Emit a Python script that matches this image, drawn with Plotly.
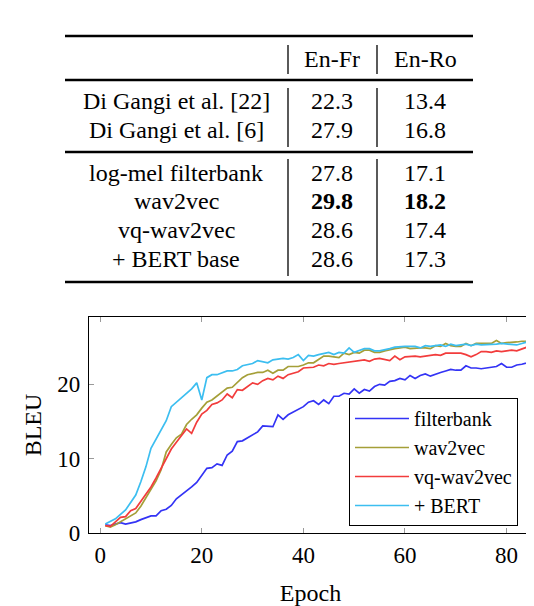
import plotly.graph_objects as go

# --- table data ---
table_header = ["En-Fr", "En-Ro"]
rows_prior = ["Di Gangi et al. [22]", "Di Gangi et al. [6]"]
en_fr_prior = ["22.3", "27.9"]
en_ro_prior = ["13.4", "16.8"]
rows_ours = ["log-mel filterbank", "wav2vec", "vq-wav2vec", "+ BERT base"]
en_fr_ours = ["27.8", "29.8", "28.6", "28.6"]
en_ro_ours = ["17.1", "18.2", "17.4", "17.3"]
best_row = "wav2vec"

# --- BLEU curves ---
epochs = list(range(1, 86))
filterbank = [
    1.1, 1.0, 1.2, 1.4, 1.2, 1.3, 1.5, 1.8, 2.1, 2.3,
    2.3, 3.0, 3.2, 3.7, 4.6, 5.1, 5.6, 6.2, 6.8, 7.8,
    8.7, 8.8, 9.3, 9.1, 10.5, 11.0, 12.3, 12.4, 12.8, 13.1,
    13.6, 14.4, 14.4, 14.3, 15.9, 15.3, 15.9, 16.3, 16.6, 17.0,
    17.6, 17.8, 17.3, 17.9, 17.4, 18.4, 18.4, 18.8, 18.7, 19.4,
    18.8, 19.3, 19.1, 19.7, 20.0, 19.9, 20.4, 20.5, 20.8, 20.6,
    21.2, 20.8, 21.2, 21.4, 21.1, 21.4, 21.6, 21.8, 22.0, 21.9,
    21.9, 22.5, 22.2, 22.2, 22.1, 22.2, 22.3, 22.4, 22.8, 22.3,
    22.3, 22.6, 22.7, 22.9, 23.1,
]
wav2vec = [
    1.0, 0.8, 1.1, 1.5, 1.8, 2.2, 2.7, 3.6, 4.8, 5.8,
    7.0, 8.5, 10.9, 11.9, 12.8, 13.3, 14.6, 15.3, 15.9, 16.8,
    17.6, 17.9, 18.4, 18.9, 19.5, 19.6, 20.3, 20.9, 21.3, 21.5,
    21.6, 21.6, 21.9, 21.5, 21.9, 21.9, 22.4, 22.4, 22.4, 22.6,
    22.9, 22.9, 23.4, 23.8, 23.8, 23.7, 23.6, 24.2, 24.0, 24.3,
    24.2, 24.6, 24.6, 24.3, 24.3, 24.5, 24.7, 24.8, 24.9, 25.0,
    24.8, 24.9, 24.9, 24.9, 24.8, 25.2, 25.1, 25.5, 25.2, 25.1,
    25.1, 25.5, 25.2, 25.5, 25.5, 25.5, 25.5, 25.9, 25.5, 25.6,
    25.6, 25.7, 25.8, 25.8, 25.5,
]
vq_wav2vec = [
    1.0, 0.9, 1.5, 2.1, 2.2, 3.0, 3.3, 4.3, 5.3, 6.2,
    7.4, 8.7, 10.0, 11.3, 12.2, 13.1, 14.0, 13.4, 14.9, 16.0,
    16.5, 17.3, 17.5, 17.9, 18.7, 18.2, 19.3, 19.2, 19.7, 20.2,
    20.0, 20.5, 20.8, 20.6, 21.1, 20.8, 21.3, 21.5, 21.7, 22.2,
    22.3, 22.3, 22.6, 22.5, 22.8, 22.7, 22.8, 22.9, 23.1, 23.1,
    23.2, 23.3, 23.1, 23.4, 23.5, 23.4, 23.2, 23.8, 23.3, 23.7,
    23.8, 23.8, 23.7, 23.8, 24.0, 24.0, 23.9, 24.2, 24.2, 24.2,
    24.2, 24.0, 23.7, 24.0, 24.4, 24.4, 24.3, 24.5, 24.4, 24.5,
    24.6, 24.5, 24.8, 25.0, 24.6,
]
bert = [
    1.2, 1.5, 1.9, 2.5, 3.1, 4.1, 5.1, 6.9, 8.9, 11.4,
    12.7, 13.9, 15.1, 17.0, 17.6, 18.1, 18.7, 19.4, 20.2, 17.9,
    20.9, 21.3, 21.3, 21.6, 21.8, 21.8, 22.0, 22.5, 22.6, 22.8,
    23.2, 23.0, 22.9, 23.3, 23.4, 23.5, 23.4, 23.6, 24.0, 23.2,
    23.9, 23.8, 24.0, 24.2, 24.3, 24.0, 24.3, 24.2, 24.9, 24.3,
    24.6, 24.8, 24.8, 24.5, 24.5, 24.6, 24.8, 25.0, 25.1, 25.1,
    25.1, 25.1, 24.9, 25.2, 25.1, 25.2, 25.3, 25.1, 25.4, 25.2,
    25.3, 25.4, 25.2, 25.4, 25.3, 25.3, 25.4, 25.4, 25.5, 25.4,
    25.4, 25.3, 25.5, 25.7, 25.3,
]

series = [
    ("filterbank", filterbank, "#3333f5"),
    ("wav2vec", wav2vec, "#a59f38"),
    ("vq-wav2vec", vq_wav2vec, "#f23c3c"),
    ("+ BERT", bert, "#3cbef0"),
]

SERIF = "Liberation Serif"

# the page body has an 8px margin, so the figure sits at (8, 8)
OFF = 8
W, H = 534 - OFF, 606 - OFF
# plot area in page pixels (reference), used to place the table above it
L, R, T, B = 89, 532, 317, 533


def px(x):
    return (x - L) / (R - L)


def py(y):
    return (B - y) / (B - T)


fig = go.Figure()
for name, ys, color in series:
    fig.add_trace(go.Scatter(x=epochs, y=ys, name=name, mode="lines",
                             legendgroup=name,
                             line=dict(color=color, width=1.7)))

# --- table above the chart ---
annotations = []


def cell(text, x, y):
    annotations.append(dict(text=text, x=px(x), y=py(y), xref="paper", yref="paper",
                            showarrow=False, xanchor="center", yanchor="middle",
                            font=dict(family=SERIF, size=24, color="black")))


col_x = [176, 332, 425]
cell(table_header[0], col_x[1], 59)
cell(table_header[1], col_x[2], 59)
for i, name in enumerate(rows_prior):
    y = 101 + 28.5 * i
    cell(name, col_x[0], y)
    cell(en_fr_prior[i], col_x[1], y)
    cell(en_ro_prior[i], col_x[2], y)
for i, name in enumerate(rows_ours):
    y = 173 + 28.5 * i
    fr, ro = en_fr_ours[i], en_ro_ours[i]
    if name == best_row:
        fr, ro = f"<b>{fr}</b>", f"<b>{ro}</b>"
    cell(name, col_x[0], y)
    cell(fr, col_x[1], y)
    cell(ro, col_x[2], y)

shapes = []
for y in [36, 80, 152, 282]:
    shapes.append(dict(type="line", xref="paper", yref="paper",
                       x0=px(65), x1=px(473), y0=py(y), y1=py(y),
                       line=dict(color="black", width=2.6)))
for x in [288, 377]:
    for y0, y1 in [(45, 74), (88, 147), (159, 276)]:
        shapes.append(dict(type="line", xref="paper", yref="paper",
                           x0=px(x), x1=px(x), y0=py(y0), y1=py(y1),
                           line=dict(color="black", width=1.3)))

axis_common = dict(
    showgrid=False, zeroline=False, showline=True, linecolor="black", linewidth=1.3,
    mirror="ticks", ticks="inside", ticklen=5, tickcolor="#9a9a9a", tickwidth=1,
    tickfont=dict(family=SERIF, size=23, color="black"),
    title_font=dict(family=SERIF, size=24, color="black"),
)

fig.update_layout(
    width=W, height=H,
    margin=dict(l=L - OFF, r=W - (R - OFF), t=T - OFF, b=H - (B - OFF)),
    plot_bgcolor="white", paper_bgcolor="white",
    xaxis=dict(axis_common, range=[-2.2, 85], tickvals=[0, 20, 40, 60, 80],
               title=dict(text="Epoch", standoff=17), ticklabelstandoff=1),
    yaxis=dict(axis_common, range=[0, 29.06], tickvals=[0, 10, 20],
               title=dict(text="BLEU", standoff=8), ticklabelstandoff=3),
    legend=dict(x=px(518), y=py(526), xanchor="right", yanchor="bottom",
                bgcolor="white", bordercolor="black", borderwidth=1,
                font=dict(family=SERIF, size=20, color="black"),
                tracegroupgap=0, itemwidth=54),
    annotations=annotations,
    shapes=shapes,
    showlegend=True,
)

fig.write_html("out.html")
